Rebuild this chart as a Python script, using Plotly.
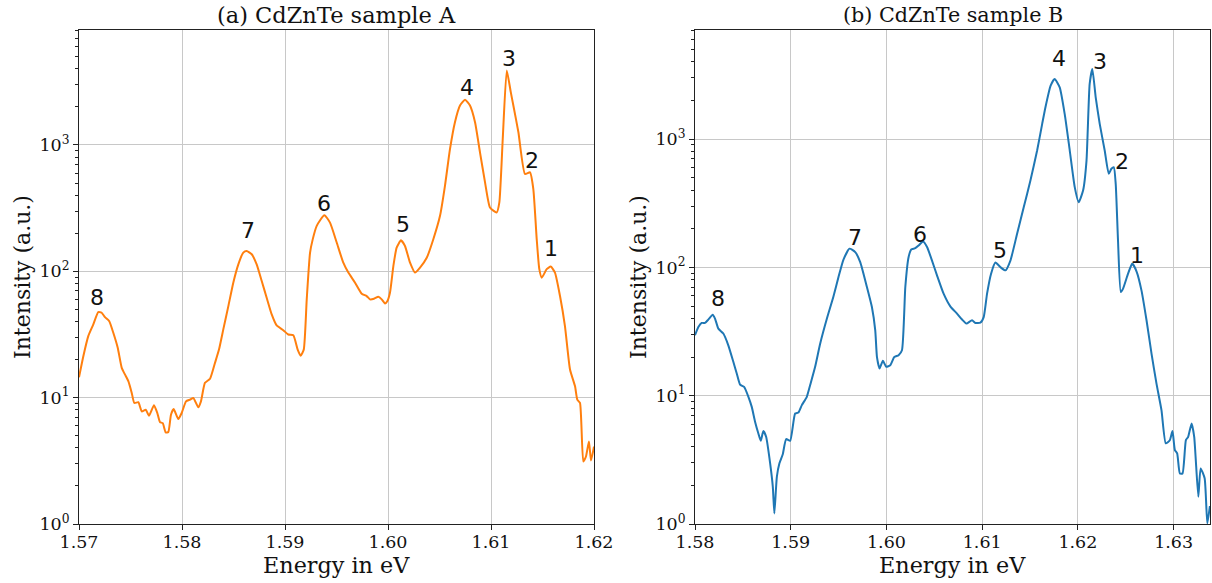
import numpy as np
import plotly.graph_objects as go

# ---------------- data ----------------
energy_a = [1.5700, 1.57042, 1.57090, 1.57139, 1.57187, 1.57220, 1.57252, 1.57294, 1.57333, 1.57376,
            1.57415, 1.57447, 1.57479, 1.57512, 1.57537, 1.57576, 1.57609, 1.57648, 1.57680, 1.57728,
            1.57760, 1.57786, 1.57813, 1.57842, 1.57867, 1.57893, 1.57919, 1.57964, 1.57997, 1.58039,
            1.58078, 1.58110, 1.58158, 1.58184, 1.58223, 1.58272, 1.58320, 1.58359, 1.58401, 1.58450,
            1.58498, 1.58547, 1.58595, 1.58628, 1.58677, 1.58725, 1.58774, 1.58822, 1.58871, 1.58919,
            1.58983, 1.59032, 1.59081, 1.59123, 1.59152, 1.59182, 1.59211, 1.59243, 1.59269, 1.59308,
            1.59382, 1.59437, 1.59502, 1.59566, 1.59615, 1.59680, 1.59745, 1.59793, 1.59825, 1.59864,
            1.59906, 1.59939, 1.59971, 1.59993, 1.60019, 1.60052, 1.60084, 1.60126, 1.60165, 1.60214,
            1.60262, 1.60311, 1.60376, 1.60440, 1.60505, 1.60553, 1.60602, 1.60650, 1.60699, 1.60748,
            1.60796, 1.60845, 1.60893, 1.60942, 1.60990, 1.61055, 1.61081, 1.61114, 1.61153, 1.61192,
            1.61217, 1.61266, 1.61330, 1.61379, 1.61411, 1.61444, 1.61469, 1.61493, 1.61541, 1.61580,
            1.61621, 1.61670, 1.61718, 1.61767, 1.61816, 1.61838, 1.61864, 1.61896, 1.61922, 1.61951,
            1.61971, 1.62000]
intensity_a = [14.5, 21.3, 30.7, 38.0, 47.5, 47.0, 43.4, 40.3, 32.6, 24.8,
               17.2, 15.2, 13.5, 10.9, 9.08, 9.2, 7.78, 8.03, 7.2, 8.7,
               7.56, 6.41, 6.28, 5.3, 5.35, 7.33, 8.13, 6.77, 7.56, 9.35,
               9.64, 9.94, 8.38, 9.35, 13.1, 14.1, 18.8, 24.0, 34.7, 53.0,
               81.3, 113.6, 140.7, 145.0, 136.4, 113.6, 83.8, 61.8, 45.6, 37.3,
               34.2, 31.6, 31.2, 24.0, 21.5, 24.0, 60.0, 140.0, 179.0, 229.0,
               278.0, 243.0, 169.0, 117.0, 97.7, 81.3, 66.5, 63.7, 60.0, 60.7,
               63.0, 60.0, 55.7, 58.0, 67.7, 110.0, 154.0, 176.0, 158.6, 117.0,
               97.7, 107.0, 128.0, 179.5, 275.0, 475.0, 930.0, 1514.0, 2051.0, 2276.0,
               2051.0, 1514.0, 875.0, 506.0, 320.0, 292.0, 351.0, 1116.0, 3890.0, 2620.0,
               2051.0, 1262.0, 589.0, 607.0, 448.0, 179.0, 104.0, 89.0, 104.0, 109.0,
               97.7, 63.7, 36.8, 16.7, 12.3, 9.64, 9.08, 3.12, 3.42, 4.5,
               3.18, 4.1]

energy_b = [1.58000, 1.58035, 1.58070, 1.58105, 1.58139, 1.58185, 1.58209, 1.58244, 1.58296, 1.58348,
            1.58401, 1.58436, 1.58471, 1.58513, 1.58558, 1.58593, 1.58628, 1.58662, 1.58687, 1.58714,
            1.58743, 1.58785, 1.58813, 1.58829, 1.58855, 1.58882, 1.58917, 1.58952, 1.58994, 1.59046,
            1.59081, 1.59116, 1.59168, 1.59203, 1.59255, 1.59308, 1.59378, 1.59447, 1.59499, 1.59551,
            1.59614, 1.59674, 1.59726, 1.59796, 1.59848, 1.59883, 1.59901, 1.59928, 1.59963, 1.59998,
            1.60040, 1.60082, 1.60127, 1.60162, 1.60197, 1.60231, 1.60259, 1.60301, 1.60336, 1.60382,
            1.60424, 1.60476, 1.60528, 1.60597, 1.60667, 1.60737, 1.60790, 1.60835, 1.60894, 1.60929,
            1.60981, 1.61016, 1.61051, 1.61093, 1.61138, 1.61190, 1.61243, 1.61295, 1.61365, 1.61434,
            1.61504, 1.61574, 1.61627, 1.61661, 1.61715, 1.61757, 1.61810, 1.61862, 1.61915, 1.61967,
            1.62008, 1.62054, 1.62090, 1.62123, 1.62151, 1.62186, 1.62228, 1.62280, 1.62322, 1.62350,
            1.62375, 1.62395, 1.62419, 1.62448, 1.62472, 1.62524, 1.62568, 1.62615, 1.62664, 1.62717,
            1.62769, 1.62821, 1.62873, 1.62918, 1.62960, 1.62988, 1.63013, 1.63037, 1.63065, 1.63093,
            1.63128, 1.63152, 1.63188, 1.63215, 1.63258, 1.63282, 1.63324, 1.63352, 1.63379]
intensity_b = [29.6, 34.3, 36.9, 36.9, 39.2, 42.8, 39.9, 33.3, 30.5, 24.7,
               18.3, 14.9, 12.2, 11.7, 9.8, 8.18, 6.25, 5.08, 4.45, 5.3,
               4.78, 2.97, 1.95, 1.21, 2.33, 2.97, 3.5, 4.59, 4.45, 7.27,
               7.4, 8.44, 9.8, 12.1, 16.8, 25.5, 39.9, 59.5, 84.1, 115.0,
               140.0, 131.5, 110.0, 70.3, 49.1, 32.3, 20.0, 16.3, 18.7, 16.8,
               17.3, 20.0, 20.7, 22.6, 70.3, 120.0, 138.0, 141.0, 148.0, 159.0,
               144.0, 113.0, 86.7, 62.4, 49.7, 43.6, 39.2, 36.5, 38.7, 36.9,
               37.1, 41.0, 62.4, 89.3, 109.0, 100.5, 94.8, 113.0, 183.0, 294.0,
               475.0, 814.0, 1314.0, 1770.0, 2608.0, 2942.0, 2530.0, 1570.0, 814.0, 422.0,
               322.0, 397.0, 680.0, 2690.0, 3520.0, 2115.0, 1314.0, 814.0, 536.0, 587.0,
               604.0, 448.0, 162.0, 64.3, 68.3, 89.3, 107.0, 92.0, 66.2, 38.7,
               21.3, 12.4, 7.71, 4.25, 4.5, 5.3, 3.77, 3.55, 2.48, 2.48,
               4.5, 4.78, 6.08, 4.78, 1.63, 2.71, 2.27, 1.01, 1.38]

peak_labels = ["1", "2", "3", "4", "5", "6", "7", "8"]
label_energy_a = [1.61580, 1.61395, 1.61178, 1.60764, 1.60149, 1.59379, 1.58644, 1.57172]
label_int_a = [151, 750, 4815, 2870, 233, 346, 209, 62.5]
label_energy_b = [1.62615, 1.62458, 1.62228, 1.61807, 1.61190, 1.60354, 1.59674, 1.58241]
label_int_b = [124, 668, 4010, 4230, 135.5, 181, 171, 57.4]

titles = ["(a) CdZnTe sample A", "(b) CdZnTe sample B"]
x_title = "Energy in eV"
y_title = "Intensity (a.u.)"
xticks_a = [1.57, 1.58, 1.59, 1.60, 1.61, 1.62]
xticks_b = [1.58, 1.59, 1.60, 1.61, 1.62, 1.63]
yticks = [1, 10, 100, 1000]
ytick_text = ["10<sup>0</sup>", "10<sup>1</sup>", "10<sup>2</sup>", "10<sup>3</sup>"]

# ---------------- figure ----------------
W, H = 1212, 583
SERIF = "DejaVu Serif"
SANS = "DejaVu Sans"

def fx(page_x):
    return page_x / W

def fy(page_y):
    return 1 - page_y / H

fig = go.Figure()
fig.add_trace(go.Scatter(x=energy_a, y=intensity_a, mode="lines",
                         line=dict(color="#ff7f0e", width=2, shape="spline", smoothing=0.5),
                         xaxis="x", yaxis="y"))
fig.add_trace(go.Scatter(x=energy_b, y=intensity_b, mode="lines",
                         line=dict(color="#1f77b4", width=2, shape="spline", smoothing=0.5),
                         xaxis="x2", yaxis="y2"))

minor_vals = [m * 10 ** d for d in range(0, 4) for m in range(2, 10)]

def xaxis_style(domain, rng, ticks):
    return dict(domain=domain, range=rng, tickvals=ticks, automargin=False,
                ticktext=[f"{t:.2f}" for t in ticks], ticklabelstandoff=-3,
                showline=True, linecolor="#222", linewidth=1, mirror=True,
                ticks="outside", ticklen=5, tickcolor="#222", tickwidth=1,
                showgrid=True, gridcolor="#c8c8c8", gridwidth=1, zeroline=False,
                tickfont=dict(family=SERIF, size=17.5, color="#111"))

def yaxis_style(domain, rng, anchor):
    return dict(domain=domain, type="log", range=rng, anchor=anchor, automargin=False,
                tickvals=yticks, ticktext=ytick_text,
                showline=True, linecolor="#222", linewidth=1, mirror=True,
                ticks="outside", ticklen=5, tickcolor="#222", tickwidth=1,
                minor=dict(tickvals=minor_vals, ticks="outside", ticklen=3,
                           tickcolor="#222", showgrid=False),
                showgrid=True, gridcolor="#c8c8c8", gridwidth=1, zeroline=False,
                tickfont=dict(family=SERIF, size=17.5, color="#111"))

xa_dom = [fx(79), fx(594)]
xb_dom = [fx(695), fx(1210)]
y_dom = [fy(524), fy(30)]

fig.update_layout(
    width=W, height=H, margin=dict(l=0, r=0, t=0, b=0, autoexpand=False),
    paper_bgcolor="white", plot_bgcolor="white", showlegend=False,
    xaxis=xaxis_style(xa_dom, [1.57, 1.62], xticks_a) | dict(anchor="y"),
    yaxis=yaxis_style(y_dom, [0, 3.91], "x"),
    xaxis2=xaxis_style(xb_dom, [1.58, 1.6338], xticks_b) | dict(anchor="y2"),
    yaxis2=yaxis_style(y_dom, [0, 3.85], "x2"),
)

annotations = []
for lab, ex, iy in zip(peak_labels, label_energy_a, label_int_a):
    annotations.append(dict(x=ex, y=np.log10(iy), xref="x", yref="y", text=lab,
                            showarrow=False, xanchor="center", yanchor="middle",
                            font=dict(family=SANS, size=22, color="#111")))
for lab, ex, iy in zip(peak_labels, label_energy_b, label_int_b):
    annotations.append(dict(x=ex, y=np.log10(iy), xref="x2", yref="y2", text=lab,
                            showarrow=False, xanchor="center", yanchor="middle",
                            font=dict(family=SANS, size=22, color="#111")))

# titles and axis labels
for dom, title, tsize in [(xa_dom, titles[0], 22.5), (xb_dom, titles[1], 20.7)]:
    cx = (dom[0] + dom[1]) / 2
    annotations.append(dict(x=cx, y=fy(15), xref="paper", yref="paper", text=title,
                            showarrow=False, xanchor="center", yanchor="middle",
                            font=dict(family=SERIF, size=tsize, color="#111")))
    annotations.append(dict(x=cx, y=fy(565), xref="paper", yref="paper", text=x_title,
                            showarrow=False, xanchor="center", yanchor="middle",
                            font=dict(family=SERIF, size=22.3, color="#111")))
for px in [22, 638]:
    annotations.append(dict(x=fx(px), y=(y_dom[0] + y_dom[1]) / 2, xref="paper", yref="paper",
                            text=y_title, textangle=-90, showarrow=False,
                            xanchor="center", yanchor="middle",
                            font=dict(family=SERIF, size=22, color="#111")))

fig.update_layout(annotations=annotations)
fig.write_html("out.html", config={"displayModeBar": False},
               post_script="document.body.style.margin='0';document.body.style.overflow='hidden';")
